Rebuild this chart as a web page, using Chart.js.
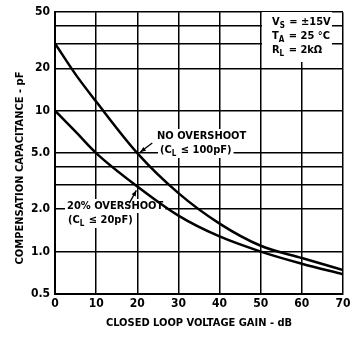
<!DOCTYPE html>
<html>
<head>
<meta charset="utf-8">
<script src="https://cdn.jsdelivr.net/npm/chart.js@4"></script>
<style>
html, body { margin: 0; padding: 0; background: #fff; }
</style>
</head>
<body>
<canvas id="gainChart" width="355" height="339"></canvas>
<script>
// closed loop gain (dB) vs compensation capacitance (pF)
const gain = [0, 5, 10, 20, 30, 40, 50, 60, 70];
const noOvershoot = [30, 18.1, 11.6, 5.0, 2.6, 1.58, 1.1, 0.9, 0.74];
const overshoot20 = [10, 7.1, 5.0, 2.9, 1.8, 1.28, 1.0, 0.82, 0.69];
const yTicks = [0.5, 1, 2, 3, 4, 5, 10, 20, 30, 40, 50];
const yLabels = { 0.5: '0.5', 1: '1.0', 2: '2.0', 5: '5.0', 10: '10', 20: '20', 50: '50' };

const FONT = '"Liberation Sans Narrow", "DejaVu Sans Condensed", sans-serif';
const SIZE = 11;

function toPoints(ys) {
    return gain.map((g, i) => ({ x: g, y: ys[i] }));
}

function boxText(ctx, str, x, y) {
    ctx.font = 'bold ' + SIZE + 'px ' + FONT;
    const w = ctx.measureText(str).width;
    ctx.fillStyle = '#fff';
    ctx.fillRect(x - 2, y - 7, w + 4, 14);
    ctx.fillStyle = '#000';
    ctx.fillText(str, x, y);
}

// text with a subscript, e.g. V_S
function subText(ctx, main, sub, rest, x, y, bg) {
    ctx.font = 'bold ' + SIZE + 'px ' + FONT;
    let w1 = ctx.measureText(main).width;
    let w3 = ctx.measureText(rest).width;
    ctx.font = 'bold 8px ' + FONT;
    let w2 = ctx.measureText(sub).width + 1;
    if (bg) {
        ctx.fillStyle = '#fff';
        ctx.fillRect(x - 2, y - 7, w1 + w2 + w3 + 4, 15);
    }
    ctx.fillStyle = '#000';
    ctx.fillText(sub, x + w1, y + 4);
    ctx.font = 'bold ' + SIZE + 'px ' + FONT;
    ctx.fillText(main, x, y);
    ctx.fillText(rest, x + w1 + w2, y);
}

function arrow(ctx, x1, y1, x2, y2) {
    ctx.beginPath();
    ctx.moveTo(x1, y1);
    ctx.lineTo(x2, y2);
    ctx.stroke();
    const a = Math.atan2(y2 - y1, x2 - x1);
    ctx.beginPath();
    ctx.moveTo(x2, y2);
    ctx.lineTo(x2 - 6 * Math.cos(a - 0.4), y2 - 6 * Math.sin(a - 0.4));
    ctx.lineTo(x2 - 6 * Math.cos(a + 0.4), y2 - 6 * Math.sin(a + 0.4));
    ctx.closePath();
    ctx.fill();
}

const notes = {
    id: 'notes',
    beforeDatasetsDraw(chart) {
        const { ctx, scales: { x, y } } = chart;
        ctx.save();
        ctx.textBaseline = 'middle';
        ctx.textAlign = 'left';
        ctx.lineWidth = 1.3;
        ctx.strokeStyle = '#000';

        // condition box
        ctx.fillStyle = '#fff';
        ctx.fillRect(262, 12, 70, 50);
        subText(ctx, 'V', 'S', ' = \u00b115V', 272, 22);
        subText(ctx, 'T', 'A', ' = 25 \u00b0C', 272, 36);
        subText(ctx, 'R', 'L', ' = 2k\u03a9', 272, 50);

        // curve labels
        boxText(ctx, 'NO OVERSHOOT', 157, 136);
        subText(ctx, '(C', 'L', ' \u2264 100pF)', 160, 150, true);
        boxText(ctx, '20% OVERSHOOT', 67, 206);
        subText(ctx, '(C', 'L', ' \u2264 20pF)', 68, 220, true);

        ctx.fillStyle = '#000';
        const hx = x.getPixelForValue(20), hy = y.getPixelForValue(5);
        arrow(ctx, hx + 15, hy - 10, hx + 3, hy - 1);
        const lx = x.getPixelForValue(20), ly = y.getPixelForValue(2.9);
        arrow(ctx, lx - 8, ly + 17, lx - 1, ly + 4);
        ctx.restore();
    },
    afterDraw(chart) {
        const ctx = chart.ctx;
        ctx.save();
        ctx.fillStyle = '#000';
        ctx.textBaseline = 'middle';
        ctx.textAlign = 'center';
        ctx.font = 'bold ' + SIZE + 'px ' + FONT;
        ctx.fillText('CLOSED LOOP VOLTAGE GAIN - dB', 199, 323);
        ctx.translate(20, 168);
        ctx.rotate(-Math.PI / 2);
        ctx.fillText('COMPENSATION CAPACITANCE - pF', 0, 0);
        ctx.restore();
    }
};

const config = {
    type: 'scatter',
    data: {
        datasets: [{
            label: 'No overshoot',
            data: toPoints(noOvershoot),
            showLine: true,
            borderColor: '#000',
            borderWidth: 2.5,
            pointRadius: 0,
            cubicInterpolationMode: 'monotone'
        }, {
            label: '20% overshoot',
            data: toPoints(overshoot20),
            showLine: true,
            borderColor: '#000',
            borderWidth: 2.5,
            pointRadius: 0,
            cubicInterpolationMode: 'monotone'
        }]
    },
    options: {
        responsive: false,
        animation: false,
        layout: { padding: { top: 10, right: 12, left: 0, bottom: 0 } },
        plugins: {
            legend: { display: false },
            tooltip: { enabled: false }
        },
        scales: {
            x: {
                type: 'linear',
                min: 0,
                max: 70,
                afterFit: s => { s.height = 45; },
                ticks: {
                    stepSize: 10,
                    color: '#000',
                    padding: 3,
                    font: { family: FONT, size: 12, weight: 'bold' }
                },
                grid: { color: '#000', lineWidth: 1.5, drawTicks: false },
                border: { color: '#000', width: 2 }
            },
            y: {
                type: 'logarithmic',
                min: 0.5,
                max: 50,
                afterFit: s => { s.width = 55; },
                afterBuildTicks: s => { s.ticks = yTicks.map(v => ({ value: v })); },
                ticks: {
                    autoSkip: false,
                    color: '#000',
                    padding: 5,
                    font: { family: FONT, size: 12, weight: 'bold' },
                    callback: v => yLabels[v] || ''
                },
                grid: { color: '#000', lineWidth: 1.5, drawTicks: false },
                border: { color: '#000', width: 2 }
            }
        }
    },
    plugins: [notes]
};

const ctx = document.getElementById('gainChart');
const gainChart = new Chart(ctx, config);
</script>
</body>
</html>
